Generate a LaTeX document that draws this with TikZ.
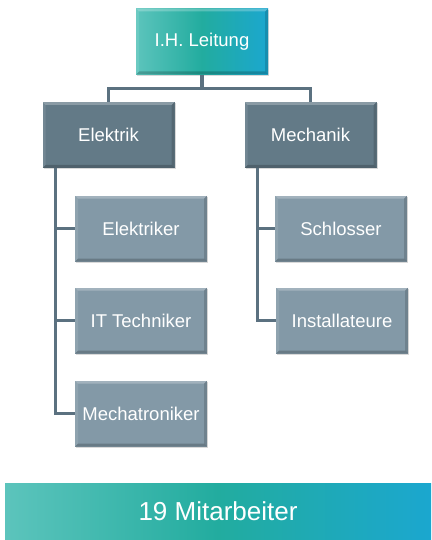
\documentclass[tikz,border=0pt]{standalone}
\usepackage{fontspec}
\setmainfont{Liberation Sans}
\usetikzlibrary{shadows}
\definecolor{darkbox}{HTML}{637A87}
\definecolor{lightbox}{HTML}{8399A7}
\definecolor{linecol}{HTML}{5B7180}
\definecolor{tealL}{HTML}{5CC4BC}
\definecolor{tealM}{HTML}{22AC9F}
\definecolor{tealR}{HTML}{1BA7CF}
\tikzset{
  bevel/.style={path picture={
    \def\pb{path picture bounding box}
    \fill[white,opacity=0.25] (\pb.north west) -- (\pb.north east) -- ([xshift=-3pt,yshift=-3pt]\pb.north east) -- ([xshift=3pt,yshift=-3pt]\pb.north west) -- cycle;
    \fill[white,opacity=0.10] (\pb.north west) -- ([xshift=3pt,yshift=-3pt]\pb.north west) -- ([xshift=3pt,yshift=3pt]\pb.south west) -- (\pb.south west) -- cycle;
    \fill[black,opacity=0.15] (\pb.north east) -- ([xshift=-3pt,yshift=-3pt]\pb.north east) -- ([xshift=-3pt,yshift=3pt]\pb.south east) -- (\pb.south east) -- cycle;
    \fill[black,opacity=0.20] (\pb.south west) -- ([xshift=3pt,yshift=3pt]\pb.south west) -- ([xshift=-3pt,yshift=3pt]\pb.south east) -- (\pb.south east) -- cycle;
  }},
  boxbase/.style={rectangle, minimum width=132pt, minimum height=66pt, inner sep=0pt,
    text=white, font=\fontsize{18.5}{20}\selectfont, bevel,
    drop shadow={opacity=0.3, shadow xshift=1pt, shadow yshift=-1.5pt}},
  topbox/.style={boxbase, left color=tealL, right color=tealR, middle color=tealM},
  headbox/.style={boxbase, fill=darkbox},
  childbox/.style={boxbase, fill=lightbox},
  conn/.style={draw=linecol, line width=3.2pt},
}
\begin{document}
\begin{tikzpicture}[x=1pt,y=-1pt]
\useasboundingbox (0,0) rectangle (431,540);
\node[topbox] (top) at (202,41.5) {I.H. Leitung};
\node[headbox] (elek) at (108.5,135) {Elektrik};
\node[headbox] (mech) at (310.5,135) {Mechanik};
\node[childbox] (c1) at (141,228.5) {Elektriker};
\node[childbox] (c2) at (141,320.5) {IT Techniker};
\node[childbox] (c3) at (141,413.5) {Mechatroniker};
\node[childbox] (m1) at (341,228.5) {Schlosser};
\node[childbox] (m2) at (342,320.5) {Installateure};
\node[rectangle, minimum width=426pt, minimum height=57pt, inner sep=0pt,
  left color=tealL, right color=tealR, middle color=tealM, text=white,
  font=\fontsize{26}{28}\selectfont] (bar) at (218,511.5) {19 Mitarbeiter};
% connectors
\draw[conn] (top.south) -- ++(0,14) coordinate (hub);
\draw[conn] (elek.north) |- (hub) -| (mech.north);
\draw[conn] ([xshift=13.5pt]elek.south west) |- (c3.west);
\draw[conn] ([xshift=13.5pt]elek.south west) |- (c1.west);
\draw[conn] ([xshift=13.5pt]elek.south west) |- (c2.west);
\draw[conn] ([xshift=13.5pt]mech.south west) |- (m2.west);
\draw[conn] ([xshift=13.5pt]mech.south west) |- (m1.west);
\end{tikzpicture}
\end{document}
